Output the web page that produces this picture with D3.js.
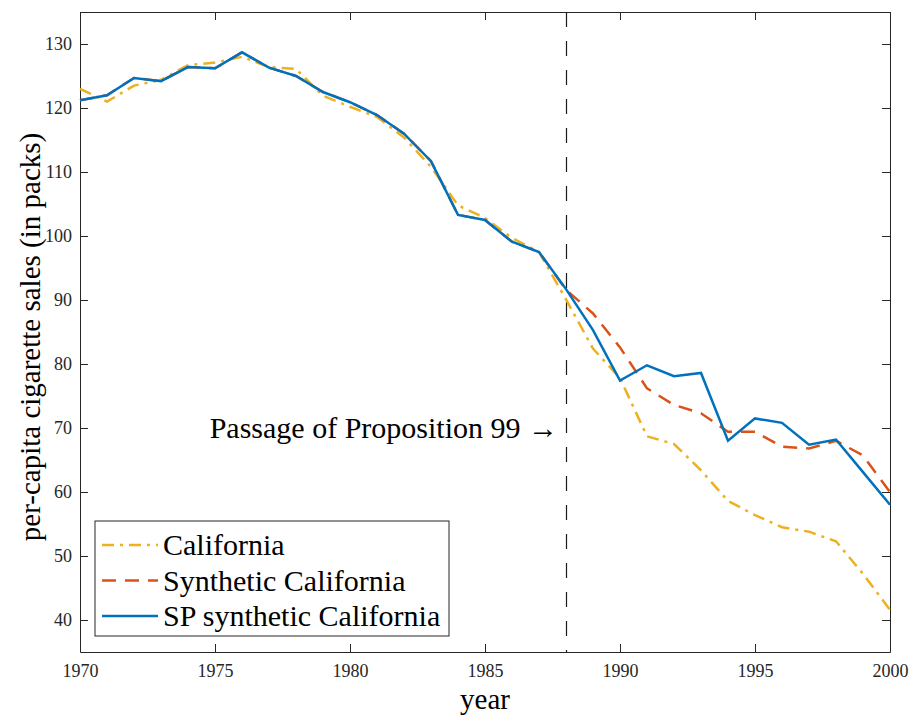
<!DOCTYPE html>
<html>
<head>
<meta charset="utf-8">
<script src="https://cdn.jsdelivr.net/npm/d3@7"></script>
<style>
  body { margin: 0; background: #fff; }
  text { font-family: "Liberation Serif", "Times New Roman", serif; }
</style>
</head>
<body>
<div id="chart"></div>
<script>
// years 1970..2000
var years = d3.range(1970, 2001);
var california = [123.0, 121.0, 123.5, 124.4, 126.7, 127.1, 128.0, 126.4, 126.1, 121.9,
    120.2, 118.6, 115.4, 110.8, 104.8, 102.8, 99.7, 97.5, 90.1, 82.4,
    77.8, 68.7, 67.5, 63.4, 58.6, 56.4, 54.5, 53.8, 52.3, 47.2, 41.6];
var synthetic = [121.2, 122.0, 124.7, 124.2, 126.4, 126.2, 128.7, 126.3, 125.0, 122.5,
    120.9, 118.9, 116.0, 111.7, 103.3, 102.5, 99.1, 97.5, 91.6, 87.9,
    82.6, 76.2, 73.6, 72.3, 69.4, 69.4, 67.1, 66.8, 68.0, 65.7, 60.0];
var spSynthetic = [121.2, 122.0, 124.7, 124.2, 126.4, 126.2, 128.7, 126.3, 125.0, 122.5,
    120.9, 118.9, 116.0, 111.7, 103.3, 102.5, 99.1, 97.5, 91.7, 85.3,
    77.4, 79.8, 78.1, 78.6, 68.0, 71.5, 70.8, 67.4, 68.2, 63.1, 58.0];
var xTicks = [1970, 1975, 1980, 1985, 1990, 1995, 2000];
var yTicks = [40, 50, 60, 70, 80, 90, 100, 110, 120, 130];
var treatYear = 1988;

var width = 910, height = 715;
var plotLeft = 80, plotRight = 890, plotTop = 12, plotBottom = 652;
var axisColor = "#262626";

var svg = d3.select("#chart").append("svg")
    .attr("width", width)
    .attr("height", height);

var x = d3.scaleLinear().domain([1970, 2000]).range([plotLeft, plotRight]);
var y = d3.scaleLinear().domain([35, 135]).range([plotBottom, plotTop]);

// axes (ticks pointing inward, box on)
function styleAxis(g) {
    g.selectAll("path").attr("stroke", axisColor);
    g.selectAll("line").attr("stroke", axisColor);
    g.selectAll("text").attr("fill", axisColor).style("font-size", "18px")
        .style("font-family", "'Liberation Serif', serif");
}
svg.append("g").attr("transform", "translate(0," + plotBottom + ")")
    .call(d3.axisBottom(x).tickValues(xTicks).tickFormat(d3.format("d")).tickSizeInner(-8).tickSizeOuter(0).tickPadding(12))
    .call(styleAxis);
svg.append("g").attr("transform", "translate(0," + plotTop + ")")
    .call(d3.axisTop(x).tickValues(xTicks).tickFormat("").tickSizeInner(-8).tickSizeOuter(0))
    .call(styleAxis);
svg.append("g").attr("transform", "translate(" + plotLeft + ",0)")
    .call(d3.axisLeft(y).tickValues(yTicks).tickSizeInner(-8).tickSizeOuter(0).tickPadding(8))
    .call(styleAxis);
svg.append("g").attr("transform", "translate(" + plotRight + ",0)")
    .call(d3.axisRight(y).tickValues(yTicks).tickFormat("").tickSizeInner(-8).tickSizeOuter(0))
    .call(styleAxis);

// treatment line
svg.append("line")
    .attr("x1", Math.round(x(treatYear)) + 0.5).attr("x2", Math.round(x(treatYear)) + 0.5)
    .attr("y1", y(135)).attr("y2", y(35))
    .attr("stroke", "#1a1a1a").attr("stroke-width", 1.2)
    .attr("stroke-dasharray", "15,14");

var series = [
    {name: "California", values: california, color: "#EDB120", dash: "12,6,3,6", w: 2.5},
    {name: "Synthetic California", values: synthetic, color: "#D95319", dash: "14,9", w: 2.5},
    {name: "SP synthetic California", values: spSynthetic, color: "#0072BD", dash: null, w: 2.5}
];

var line = d3.line()
    .x(function (d, i) { return x(years[i]); })
    .y(function (d) { return y(d); });

svg.selectAll(".series")
    .data(series)
    .enter()
    .append("path")
    .attr("class", "series")
    .attr("d", function (d) { return line(d.values); })
    .attr("fill", "none")
    .attr("stroke", function (d) { return d.color; })
    .attr("stroke-width", function (d) { return d.w; })
    .attr("stroke-dasharray", function (d) { return d.dash; });

// annotation
svg.append("text")
    .attr("x", 558).attr("y", 438)
    .attr("text-anchor", "end")
    .style("font-size", "30px")
    .text("Passage of Proposition 99 \u2192");

// axis labels
svg.append("text")
    .attr("x", (plotLeft + plotRight) / 2).attr("y", 709)
    .attr("text-anchor", "middle")
    .style("font-size", "29px")
    .text("year");
svg.append("text")
    .attr("transform", "translate(40," + ((plotTop + plotBottom) / 2 + 5) + ") rotate(-90)")
    .attr("text-anchor", "middle")
    .style("font-size", "29px")
    .text("per-capita cigarette sales (in packs)");

// legend
var legend = svg.append("g").attr("transform", "translate(95,521)");
legend.append("rect")
    .attr("width", 354).attr("height", 115)
    .attr("fill", "#fff").attr("stroke", axisColor).attr("stroke-width", 1);
var item = legend.selectAll(".item")
    .data(series)
    .enter()
    .append("g")
    .attr("transform", function (d, i) { return "translate(0," + (24 + i * 35.5) + ")"; });
item.append("line")
    .attr("x1", 7).attr("x2", 63)
    .attr("stroke", function (d) { return d.color; })
    .attr("stroke-width", function (d) { return d.w; })
    .attr("stroke-dasharray", function (d) { return d.dash; });
item.append("text")
    .attr("x", 68).attr("y", 10)
    .style("font-size", "30px")
    .text(function (d) { return d.name; });
</script>
</body>
</html>
